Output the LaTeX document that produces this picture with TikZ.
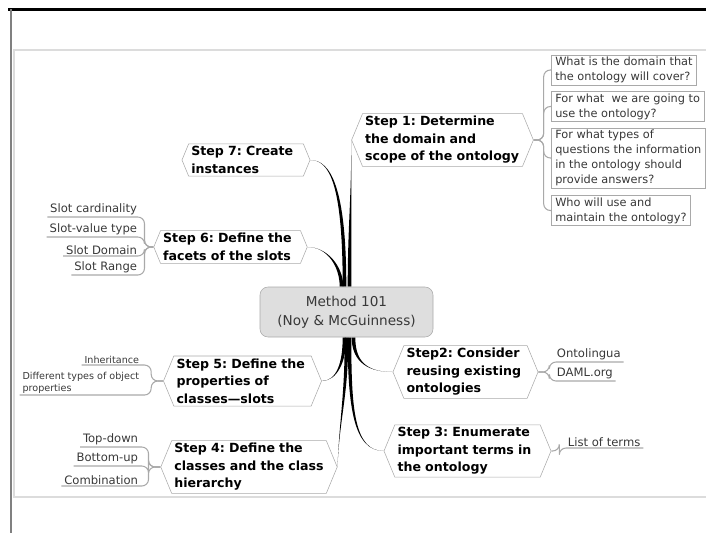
\documentclass[tikz,border=0pt]{standalone}
\usepackage{fontspec}
\setmainfont{DejaVu Sans}
\setsansfont{DejaVu Sans}
\usetikzlibrary{shapes.symbols, calc, backgrounds}
\definecolor{cline}{HTML}{A9A9A9}
\definecolor{cframe}{HTML}{DCDCDC}
\definecolor{ccore}{HTML}{DEDEDE}
\definecolor{ctext}{HTML}{383838}
\tikzset{
  every picture/.style={x=0.75pt, y=-0.75pt},
  core/.style={draw=cline, fill=ccore, rounded corners=6pt, align=center, minimum width=129.75pt, minimum height=37.5pt, text=ctext, font=\fontsize{10.2}{14.2}\selectfont},
  stepnode/.style={signal, signal to=west and east, signal pointer angle=135, draw=cline, fill=white, align=left, inner xsep=2pt, inner ysep=2pt, font=\fontsize{9.45}{13.1}\selectfont\bfseries, execute at begin node={\hyphenpenalty=10000\relax}},
  qbox/.style={draw=cline, fill=white, align=left, anchor=west, inner xsep=3pt, inner ysep=1.5pt, text=ctext, font=\fontsize{8.5}{11.25}\selectfont},
  leaf/.style={inner xsep=2pt, inner ysep=1pt, text=ctext, font=\fontsize{8.7}{11}\selectfont},
  leafsmall/.style={leaf, align=left, font=\fontsize{7.2}{9}\selectfont},
  link/.style={draw=cline, line width=0.8pt, rounded corners=5pt},
}
% tapered branch: root anchor, root shift, tip anchor, root control, tip control
\newcommand{\branch}[5]{%
  \fill ($(#1)+(#2,0)+(-1.8,0)$) .. controls +(#4) and +(#5) .. (#3)
    .. controls +(#5) and +(#4) .. ($(#1)+(#2,0)+(1.8,0)$) -- cycle;}

\begin{document}
\frenchspacing
\begin{tikzpicture}
  \useasboundingbox (0,0) rectangle (706,533);
  \node[core] (m) at (346.5,312) {Method 101\\(Noy \& McGuinness)};
  % steps
  \node[stepnode, text width=116pt] (s1) at (442.5,140) {Step 1: Determine\\the domain and\\scope of the ontology};
  \node[stepnode, text width=82pt] (s7) at (246,160) {Step 7: Create\\instances};
  \node[stepnode, text width=101pt] (s6) at (230.5,247) {Step 6: Define the\\facets of the slots};
  \node[stepnode, text width=99pt] (s5) at (242.5,381) {Step 5: Define the\\properties of\\classes—slots};
  \node[stepnode, text width=112pt] (s4) at (249,467) {Step 4: Define the\\classes and the class\\hierarchy};
  \node[stepnode, text width=88.5pt] (s2) at (465.5,372) {Step2: Consider\\reusing existing\\ontologies};
  \node[stepnode, text width=105pt] (s3) at (467.5,451) {Step 3: Enumerate\\important terms in\\the ontology};
  % step 1 questions
  \node[qbox] (q1) at (551,70) {What is the domain that\\the ontology will cover?};
  \node[qbox] (q2) at (551,106.5) {For what~ we are going to\\use the ontology?};
  \node[qbox] (q3) at (551,158) {For what types of\\questions the information\\in the ontology should\\provide answers?};
  \node[qbox] (q4) at (551,210.5) {Who will use and\\maintain the ontology?};
  % step 6 facets
  \node[leaf, anchor=south east] (f1) at (140,217) {Slot cardinality};
  \node[leaf, anchor=south east] (f2) at (140,237) {Slot-value type};
  \node[leaf, anchor=south east] (f3) at (140,256) {Slot Domain};
  \node[leaf, anchor=south east] (f4) at (140,275) {Slot Range};
  % step 5 properties
  \node[leafsmall, anchor=south east] (p1) at (142,365) {Inheritance};
  \node[leafsmall, anchor=south east] (p2) at (142,395) {Different types of object\\properties};
  % step 4 hierarchy
  \node[leaf, anchor=south east] (h1) at (141,447) {Top-down};
  \node[leaf, anchor=south east] (h2) at (141,466) {Bottom-up};
  \node[leaf, anchor=south east] (h3) at (141,486) {Combination};
  % step 2 and step 3
  \node[leaf, anchor=south west] (o1) at (554,362) {Ontolingua};
  \node[leaf, anchor=south west] (o2) at (554,381) {DAML.org};
  \node[leaf, anchor=south west] (t1) at (565,448) {List of terms};
  \begin{scope}[on background layer]
    \draw[cframe, line width=1pt] (14,50) rectangle (720,497);
    \draw[line width=2.25pt] (8,9.5) -- (706,9.5);
    \draw[gray, line width=1.5pt] (11,9) -- (11,533);
    % branches
    \branch{m.north}{3}{s1.west}{0,-60}{0,60}
    \branch{m.north}{-2}{s7.east}{0,-100}{20,0}
    \branch{m.north}{-5}{s6.east}{0,-20}{20,0}
    \branch{m.south}{-2}{s5.east}{0,25}{15,0}
    \branch{m.south}{0}{s4.east}{0,60}{2,-50}
    \branch{m.south}{3}{s3.west}{0,70}{-30,0}
    \branch{m.south}{7}{s2.west}{0,20}{-30,0}
    % links
    \foreach \i in {1,...,4} \draw[link] (s1.east) -- ++(10,0) |- (q\i.west);
    \foreach \i in {1,...,4} \draw[link] (s6.west) -- ++(-9,0) |- (f\i.south west);
    \foreach \i in {1,2} \draw[link] (s5.west) -- ++(-12,0) |- (p\i.south west);
    \foreach \i in {1,...,3} \draw[link] (s4.west) -- ++(-12,0) |- (h\i.south west);
    \foreach \i in {1,2} \draw[link] (s2.east) -- ++(11,0) |- (o\i.south east);
    \draw[link] (s3.east) -- ++(8,0) |- (t1.south east);
  \end{scope}
\end{tikzpicture}
\end{document}
